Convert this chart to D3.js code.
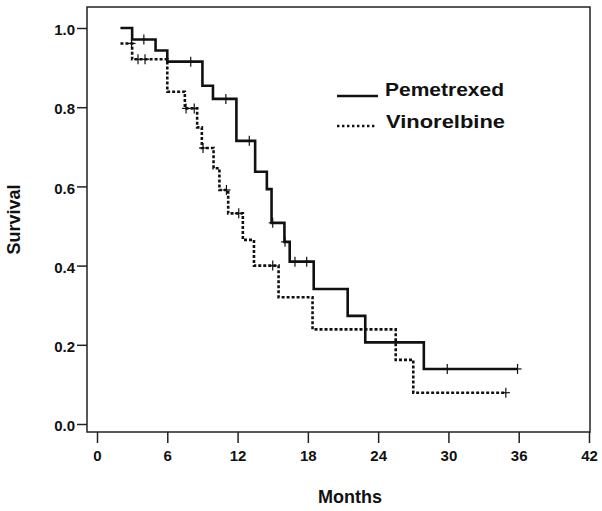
<!DOCTYPE html>
<html>
<head>
<meta charset="utf-8">
<script src="https://cdn.jsdelivr.net/npm/d3@7"></script>
<style>
  body { margin: 0; background: #fff; }
  text { font-family: Arial, "Liberation Sans", sans-serif; font-weight: bold; fill: #111; }
</style>
</head>
<body>
<div id="chart"></div>
<script>
// Kaplan-Meier steps (months, survival)
const pemTimes  = [2.0, 3.0, 5.0, 6.0, 9.0, 9.9, 11.9, 13.5, 14.5, 14.9, 16.0, 16.45, 18.5, 21.4, 22.9, 27.9];
const pemSurv   = [1.0, 0.971, 0.943, 0.915, 0.854, 0.821, 0.715, 0.637, 0.593, 0.508, 0.46, 0.41, 0.341, 0.273, 0.206, 0.139];
const pemEnd    = 35.9;
const pemCensor = [4.0, 8.0, 11.0, 13.0, 15.0, 16.05, 16.9, 17.9, 29.9, 35.9];

const vinTimes  = [2.0, 3.0, 6.0, 7.5, 8.55, 8.95, 9.95, 10.45, 11.2, 12.45, 13.4, 15.5, 18.4, 25.5, 27.0];
const vinSurv   = [0.961, 0.921, 0.839, 0.797, 0.749, 0.697, 0.646, 0.591, 0.532, 0.465, 0.40, 0.32, 0.239, 0.162, 0.079];
const vinEnd    = 34.9;
const vinCensor = [2.95, 3.5, 4.1, 7.6, 8.3, 9.05, 11.05, 12.1, 15.0, 34.9];

const xTicks = [0, 6, 12, 18, 24, 30, 36, 42];
const yTicks = [0, 0.2, 0.4, 0.6, 0.8, 1.0];
const seriesNames = ["Pemetrexed", "Vinorelbine"];

const width = 602, height = 511;
// plot frame
let frame = { left: 87, right: 590, top: 7, bottom: 432 };

let x = d3.scaleLinear().domain([0, 42]).range([97, 589]);
let y = d3.scaleLinear().domain([0, 1]).range([424, 28]);

let svg = d3.select('#chart').append('svg')
    .attr('width', width).attr('height', height);

svg.append('rect')
    .attr('x', frame.left).attr('y', frame.top)
    .attr('width', frame.right - frame.left)
    .attr('height', frame.bottom - frame.top)
    .attr('fill', 'none').attr('stroke', '#222').attr('stroke-width', 1.5);

// axes
let yAxis = svg.append('g')
    .attr('transform', "translate(" + frame.left + ",0)")
    .call(d3.axisLeft(y).tickValues(yTicks).tickFormat(d3.format('.1f')).tickSize(10).tickPadding(2));
let xAxis = svg.append('g')
    .attr('transform', "translate(0," + frame.bottom + ")")
    .call(d3.axisBottom(x).tickValues(xTicks).tickSize(11).tickPadding(7));

[yAxis, xAxis].forEach(a => {
    a.select('.domain').remove();
    a.selectAll('.tick line').attr('stroke', '#222').attr('stroke-width', 1.5);
    a.selectAll('.tick text').style('font-size', '15px').style('font-weight', 'bold')
        .attr('fill', '#111').style('font-family', 'Arial, "Liberation Sans", sans-serif');
});
yAxis.selectAll('.tick text').attr('dy', '0.45em');

// axis titles
svg.append('text')
    .attr('transform', "translate(20," + (frame.top + frame.bottom) / 2 + ") rotate(-90)")
    .attr('text-anchor', 'middle')
    .style('font-size', '18px')
    .text('Survival');
svg.append('text')
    .attr('x', 350).attr('y', 503)
    .attr('text-anchor', 'middle')
    .style('font-size', '18px')
    .text('Months');

// build step path
function stepPoints(times, surv, end){
    let pts = [];
    times.forEach((t, i) => {
        if (i > 0) pts.push([t, surv[i - 1]]);
        pts.push([t, surv[i]]);
    });
    pts.push([end, surv[surv.length - 1]]);
    return pts;
}
function survAt(times, surv, t){
    let s = surv[0];
    times.forEach((tt, i) => { if (tt <= t) s = surv[i]; });
    return s;
}

let line = d3.line().x(d => x(d[0])).y(d => y(d[1]));

let series = [
    { name: seriesNames[0], times: pemTimes, surv: pemSurv, end: pemEnd, censor: pemCensor, dash: null },
    { name: seriesNames[1], times: vinTimes, surv: vinSurv, end: vinEnd, censor: vinCensor, dash: '3,2' }
];

series.forEach(s => {
    svg.append('path')
        .datum(stepPoints(s.times, s.surv, s.end))
        .attr('d', line)
        .attr('fill', 'none')
        .attr('stroke', '#111')
        .attr('stroke-width', 2.6)
        .attr('stroke-dasharray', s.dash);

    let marks = svg.selectAll(null)
        .data(s.censor)
        .enter().append('g')
        .attr('transform', d => "translate(" + x(d) + "," + y(survAt(s.times, s.surv, d)) + ")");
    marks.append('line')
        .attr('y1', -5).attr('y2', 5)
        .attr('stroke', '#111').attr('stroke-width', 1.2);
    marks.append('line')
        .attr('x1', -4).attr('x2', 4)
        .attr('stroke', '#111').attr('stroke-width', 1.2);
});

// legend
let legend = svg.append('g').attr('class', 'legend');
let legendRows = legend.selectAll('g')
    .data(series)
    .enter().append('g')
    .attr('transform', (d, i) => "translate(337," + (96 + i * 30) + ")");
legendRows.append('line')
    .attr('x1', 0).attr('x2', (d, i) => i == 0 ? 41 : 40)
    .attr('y1', 0).attr('y2', 0)
    .attr('stroke', '#111')
    .attr('stroke-width', (d, i) => i == 0 ? 2.6 : 2.4)
    .attr('stroke-dasharray', (d, i) => i == 0 ? null : '2.4,2.6');
legendRows.append('text')
    .attr('x', (d, i) => i == 0 ? 48 : 49)
    .attr('y', (d, i) => i == 0 ? 0 : 2)
    .attr('textLength', 119)
    .attr('lengthAdjust', 'spacingAndGlyphs')
    .style('font-size', '19px')
    .text(d => d.name);
</script>
</body>
</html>
